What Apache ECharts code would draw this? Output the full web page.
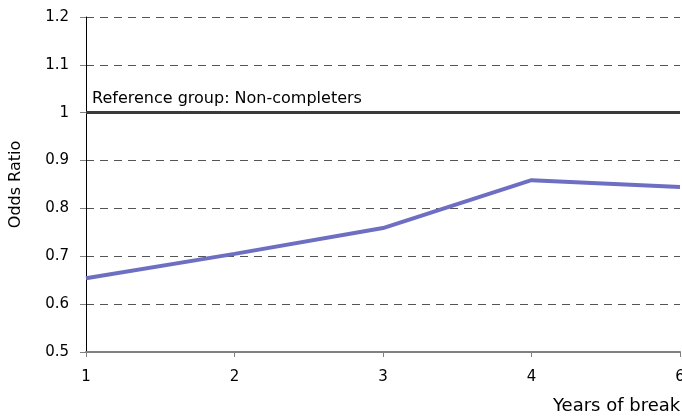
<!DOCTYPE html>
<html>
<head>
<meta charset="utf-8">
<script src="https://cdn.jsdelivr.net/npm/echarts@6/dist/echarts.min.js"></script>
<style>html,body{margin:0;padding:0;background:#fff}#c{width:682px;height:419px}</style>
</head>
<body>
<div id="c"></div>
<script>
const categories = ['1', '2', '3', '4', '6'];
const oddsRatio = [0.654, 0.705, 0.759, 0.859, 0.845];
const referenceValue = 1;
const referenceLabel = 'Reference group: Non-completers';
const xName = 'Years of break';
const yName = 'Odds Ratio';

const chart = echarts.init(document.getElementById('c'));
const font = 'DejaVu Sans';
chart.setOption({
  animation: false,
  grid: { left: 86, right: 2, top: 17, bottom: 67, containLabel: false, outerBoundsMode: 'none' },
  xAxis: {
    type: 'category',
    data: categories,
    boundaryGap: false,
    name: xName,
    nameLocation: 'end',
    nameGap: -127,
    nameTextStyle: { fontFamily: font, fontSize: 18, color: '#000', align: 'left', verticalAlign: 'top', padding: [45, 0, 0, 0] },
    axisLine: { lineStyle: { color: '#808080', width: 2 } },
    axisTick: { show: true, alignWithLabel: true, length: 5, lineStyle: { color: '#808080', width: 1 } },
    axisLabel: { fontFamily: font, fontSize: 15, color: '#000', margin: 18 },
    splitLine: { show: false }
  },
  yAxis: {
    type: 'value',
    min: 0.5, max: 1.2, interval: 0.1,
    name: yName,
    nameLocation: 'middle',
    nameGap: 62,
    nameTextStyle: { fontFamily: font, fontSize: 16, color: '#000' },
    axisLine: { show: true, lineStyle: { color: '#000', width: 1 } },
    axisTick: { show: true, length: 6, lineStyle: { color: '#808080' } },
    axisLabel: { fontFamily: font, fontSize: 15, color: '#000', margin: 17,
      formatter: v => String(Math.round(v * 10) / 10) },
    splitLine: { show: true, lineStyle: { color: '#555', type: [8, 6], width: 1 } }
  },
  series: [{
    type: 'line',
    data: oddsRatio,
    symbol: 'none',
    lineStyle: { color: '#6e6ec2', width: 4 },
    markLine: {
      silent: true,
      symbol: 'none',
      data: [{ yAxis: referenceValue }],
      lineStyle: { color: '#3a3a3a', width: 3, type: 'solid' },
      label: { show: true, position: 'insideStartTop', formatter: referenceLabel,
        fontFamily: font, fontSize: 16, color: '#000', distance: [6, 6] }
    }
  }]
});
</script>
</body>
</html>
